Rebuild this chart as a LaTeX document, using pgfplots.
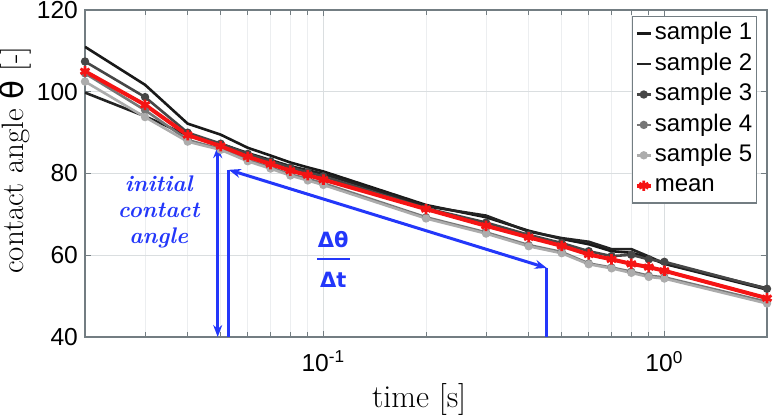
\documentclass[border=0pt]{standalone}
\usepackage{pgfplots}
\pgfplotsset{compat=1.18}
\usepackage{fontspec}
\usetikzlibrary{arrows.meta}
\newfontfamily\arial{Liberation Sans}
\newfontfamily\djv{DejaVu Sans}
\definecolor{s1c}{RGB}{25,25,25}
\definecolor{s2c}{RGB}{35,35,35}
\definecolor{s3c}{RGB}{70,70,70}
\definecolor{s4c}{RGB}{118,118,118}
\definecolor{s5c}{RGB}{172,172,172}
\definecolor{meanc}{RGB}{245,20,20}
\definecolor{annc}{RGB}{35,55,250}
\definecolor{gridmaj}{RGB}{218,222,224}
\definecolor{gridmin}{RGB}{236,238,240}
\definecolor{axcol}{RGB}{115,125,130}
\pgfplotstableread{
x s1 s2 s3 s4 s5 mean
0.02 111.0 99.8 107.4 104.5 102.5 105.0
0.03 101.7 94.0 98.7 95.5 93.8 96.8
0.04 92.2 89.3 90.0 88.2 87.8 89.4
0.05 89.5 87.3 87.3 86.0 85.8 86.7
0.06 86.3 85.0 84.8 83.3 83.0 84.1
0.07 84.4 83.3 83.0 81.5 81.2 82.3
0.08 82.7 81.8 81.5 79.8 79.5 80.7
0.09 81.5 80.8 80.3 78.7 78.3 79.6
0.1 80.5 79.9 79.3 77.6 77.2 78.5
0.2 72.3 72.0 71.5 69.3 69.0 71.3
0.3 69.3 69.7 68.0 65.6 65.3 67.2
0.4 66.0 65.8 65.0 62.5 62.2 64.4
0.5 64.0 64.2 63.0 60.8 60.5 62.3
0.6 62.7 63.3 61.0 58.0 57.8 60.2
0.7 61.0 61.5 59.8 57.0 56.8 59.0
0.8 60.6 61.5 60.1 56.0 55.7 57.9
0.9 59.4 59.7 59.0 55.0 54.7 57.1
1 57.9 58.0 58.4 54.6 54.3 56.2
2 51.6 51.9 51.8 48.6 48.2 49.5
}\data
\begin{document}
\begin{tikzpicture}
\path[use as bounding box] (-42.5pt,-40.5pt) rectangle (344.5pt,168.5pt);
\begin{axis}[
  at={(0pt,0pt)}, anchor=south west,
  scale only axis, width=341pt, height=163.5pt,
  xmode=log, xmin=0.02, xmax=2, ymin=40, ymax=120,
  xtick={0.1,1},
  xticklabels={10\textsuperscript{-1},10\textsuperscript{0}},
  minor xtick={0.02,0.03,0.04,0.05,0.06,0.07,0.08,0.09,0.2,0.3,0.4,0.5,0.6,0.7,0.8,0.9,2},
  ytick={40,60,80,100,120},
  tick align=inside, tick pos=both,
  major tick length=3pt, minor tick length=2.5pt,
  tick style={draw=axcol, line width=0.5pt},
  xmajorgrids, xminorgrids, ymajorgrids,
  major grid style={draw=gridmaj, line width=0.5pt},
  minor grid style={draw=gridmin, line width=0.4pt},
  axis line style={draw=axcol, line width=0.6pt},
  /pgf/number format/assume math mode=true,
  yticklabel style={font=\arial\fontsize{12.3}{14}\selectfont},
  xticklabel style={font=\arial\fontsize{12.3}{14}\selectfont, yshift=-3.5pt},
  xlabel={time [s]},
  ylabel={contact angle {\djv θ} [-]},
  xlabel style={font=\fontsize{16}{18}\selectfont, at={(axis description cs:0.49,0)}, anchor=base, yshift=-35pt},
  ylabel style={font=\fontsize{15.5}{18}\selectfont, at={(axis description cs:-0.09,0.541)}, anchor=base, rotate=0},
  legend style={at={(rel axis cs:0.985,0.982)}, anchor=north east,
    font=\arial\fontsize{12}{14}\selectfont, draw=axcol, line width=0.6pt,
    inner xsep=1pt, inner ysep=1pt, row sep=0pt,
    nodes={inner xsep=1pt, inner ysep=2pt, text height=8.7pt, text depth=2.5pt},
    cells={anchor=west}},
  legend image code/.code={\draw[#1,mark repeat=2,mark phase=2] plot coordinates {(0pt,0pt) (3.5pt,0pt) (7pt,0pt)};},
]
\addplot[s1c, line width=1.3pt] table[x=x,y=s1]{\data};
\addlegendentry{sample 1}
\addplot[s2c, line width=1.3pt] table[x=x,y=s2]{\data};
\addlegendentry{sample 2}
\addplot[s3c, line width=1.3pt, mark=*, mark size=1.4pt] table[x=x,y=s3]{\data};
\addlegendentry{sample 3}
\addplot[s4c, line width=1.3pt, mark=*, mark size=1.4pt] table[x=x,y=s4]{\data};
\addlegendentry{sample 4}
\addplot[s5c, line width=1.3pt, mark=*, mark size=1.4pt] table[x=x,y=s5]{\data};
\addlegendentry{sample 5}
\addplot[meanc, line width=2pt, mark=asterisk, mark size=2.6pt, mark options={line width=1.4pt}] table[x=x,y=mean]{\data};
\addlegendentry{mean}
% annotations
\draw[annc, line width=1.5pt, {Stealth[length=6pt,width=4.5pt]}-{Stealth[length=6pt,width=4.5pt]}] (0.049,40) -- (0.049,86.7);
\draw[annc, line width=1.5pt] (0.0528,40) -- (0.0528,80.9);
\draw[annc, line width=1.5pt, {Stealth[length=6pt,width=4.5pt]}-{Stealth[length=6pt,width=4.5pt]}] (0.0528,80.9) -- (0.452,56.9);
\draw[annc, line width=1.5pt] (0.452,56.9) -- (0.452,40);
\node[annc, font=\bfseries\itshape\fontsize{11.3}{12.8}\selectfont, align=center, inner sep=0pt] at (0.0329,70.6) {initial\\contact\\angle};
\node[annc, font=\djv\bfseries\fontsize{10.5}{12}\selectfont, anchor=base, inner sep=0pt] at (0.1069,62.0) {Δθ};
\draw[annc, line width=1.2pt] (0.0960,59.1) -- (0.1199,59.1);
\node[annc, font=\djv\bfseries\fontsize{10.5}{12}\selectfont, anchor=base, inner sep=0pt] at (0.1069,52.0) {Δt};
\end{axis}
\end{tikzpicture}
\end{document}
